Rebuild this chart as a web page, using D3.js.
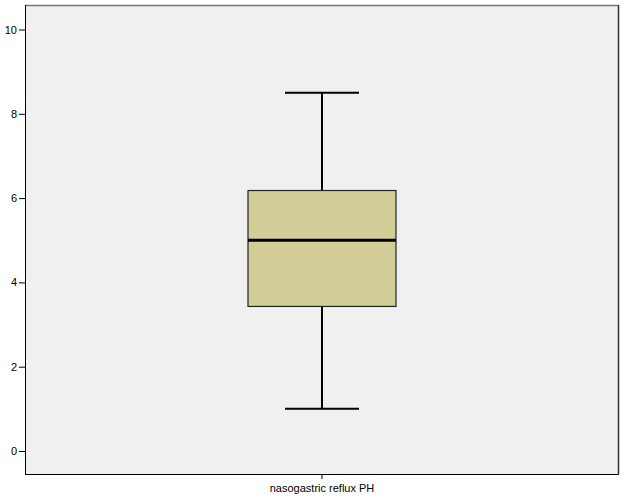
<!DOCTYPE html>
<html><head><meta charset="utf-8">
<script src="https://cdn.jsdelivr.net/npm/d3@7"></script>
<style>body{margin:0;background:#fff;}svg{display:block;font-family:"Liberation Sans",Arial,sans-serif;}</style>
</head><body>
<svg id="c" width="625" height="500"></svg>
<script>
const categories = ["nasogastric reflux PH"];
const whiskerLow = [1.0];
const q1 = [3.43];
const median = [5.0];
const q3 = [6.18];
const whiskerHigh = [8.5];
const yTicks = [0, 2, 4, 6, 8, 10];

const svg = d3.select("#c");
const L = 25, R = 619, T = 5, B = 474;
const y = d3.scaleLinear().domain([0, 10]).range([451, 29.5]);
const x = d3.scaleBand().domain(categories).range([L, R]);

svg.append("rect").attr("x", L).attr("y", T).attr("width", R - L).attr("height", B - T).attr("fill", "#f0f0f0");
// borders
svg.append("line").attr("x1", L).attr("x2", R).attr("y1", T + 0.5).attr("y2", T + 0.5).attr("stroke", "#777").attr("stroke-width", 1.5);
svg.append("line").attr("x1", R - 0.5).attr("x2", R - 0.5).attr("y1", T).attr("y2", B).attr("stroke", "#333").attr("stroke-width", 1.5);

// y axis
const ya = svg.append("g").attr("transform", `translate(${L},0)`)
  .call(d3.axisLeft(y).tickValues(yTicks).tickSize(6).tickPadding(2).tickFormat(d3.format("d")));
ya.select(".domain").attr("d", `M0.5,${T}V${B}`).attr("stroke", "#000");
ya.selectAll("text").attr("font-size", 11).attr("fill", "#000").attr("font-family", "Liberation Sans, Arial, sans-serif");
// x axis
const xa = svg.append("g").attr("transform", `translate(0,${B})`)
  .call(d3.axisBottom(x).tickSize(5).tickPadding(5));
xa.select(".domain").attr("d", `M${L},0.5H${R}`).attr("stroke", "#000");
xa.selectAll("text").attr("font-size", 11).attr("fill", "#000").attr("font-family", "Liberation Sans, Arial, sans-serif");

const boxW = 148, capW = 74;
categories.forEach((c, i) => {
  const cx = x(c) + x.bandwidth() / 2;
  const g = svg.append("g");
  g.append("line").attr("x1", cx).attr("x2", cx).attr("y1", y(whiskerHigh[i])).attr("y2", y(q3[i])).attr("stroke", "#000").attr("stroke-width", 2);
  g.append("line").attr("x1", cx).attr("x2", cx).attr("y1", y(q1[i])).attr("y2", y(whiskerLow[i])).attr("stroke", "#000").attr("stroke-width", 2);
  g.append("line").attr("x1", cx - capW / 2).attr("x2", cx + capW / 2).attr("y1", y(whiskerHigh[i])).attr("y2", y(whiskerHigh[i])).attr("stroke", "#000").attr("stroke-width", 2);
  g.append("line").attr("x1", cx - capW / 2).attr("x2", cx + capW / 2).attr("y1", y(whiskerLow[i])).attr("y2", y(whiskerLow[i])).attr("stroke", "#000").attr("stroke-width", 2);
  g.append("rect").attr("x", cx - boxW / 2).attr("width", boxW).attr("y", y(q3[i])).attr("height", y(q1[i]) - y(q3[i]))
    .attr("fill", "#d3ce98").attr("stroke", "#222").attr("stroke-width", 1.2);
  g.append("line").attr("x1", cx - boxW / 2).attr("x2", cx + boxW / 2).attr("y1", y(median[i])).attr("y2", y(median[i])).attr("stroke", "#000").attr("stroke-width", 3);
});
</script>
</body></html>
